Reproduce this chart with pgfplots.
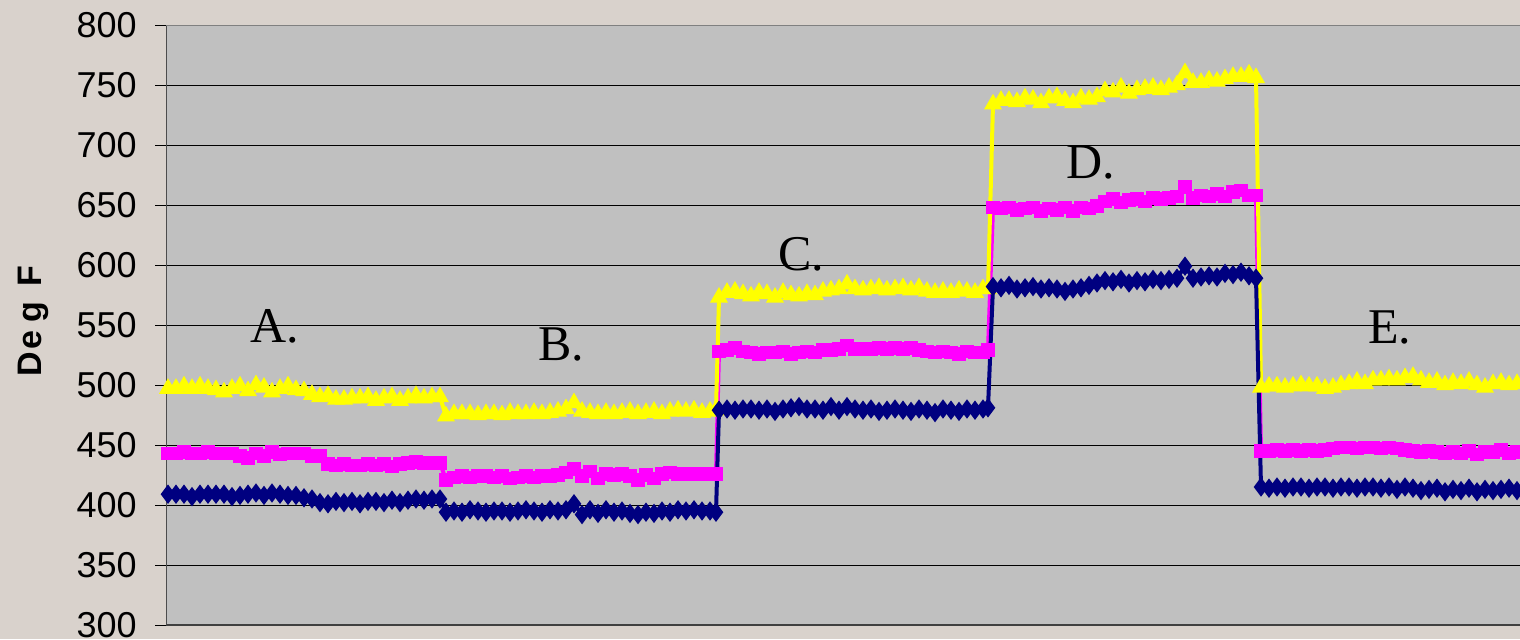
\documentclass[border=0pt]{standalone}
\usepackage{fontspec}
\setmainfont{Liberation Sans}
\newfontfamily\seriffont{Liberation Serif}
\usepackage{pgfplots}
\pgfplotsset{compat=1.18}
\definecolor{bgbeige}{RGB}{217,210,204}
\definecolor{plotgray}{RGB}{192,192,192}
\definecolor{ynavy}{RGB}{0,0,128}
\definecolor{ymag}{RGB}{255,0,255}
\definecolor{yyel}{RGB}{255,255,0}
\begin{document}
\begin{tikzpicture}
\fill[bgbeige] (0,0) rectangle (760pt,319.5pt);
\useasboundingbox (0,0) rectangle (760pt,319.5pt);
\begin{axis}[
  at={(83pt,7pt)}, anchor=south west,
  width=677pt, height=300pt, scale only axis,
  xmin=166, xmax=1520, ymin=300, ymax=800,
  ytick={300,350,...,800}, xtick=\empty,
  ymajorgrids, grid style={black, line width=0.5pt},
  axis background/.style={fill=plotgray},
  axis line style={draw=none},
  ytick pos=left, tick align=outside, major tick length=5.5pt,
  tick style={black, line width=0.5pt},
  /pgf/number format/assume math mode=true,
  yticklabel style={font=\fontsize{18}{18}\selectfont, inner sep=0pt, anchor=east, xshift=-9pt},
]
\draw[color=black!75, line width=0.6pt] (axis cs:166,300) -- (axis cs:1520,300);
\addplot[color=ymag, line width=2pt, mark=square*, mark size=2.9pt, mark options={solid, fill=ymag, line width=1pt}] coordinates {
(168,443)(176,443)(184,444)(192,443)(200,443)(208,444)(216,443)(224,443)(232,443)(240,441)(248,439)(256,443)(264,441)(272,444)(280,442)(288,443)(296,443)(304,443)(312,441)(320,441)(328,434)(336,433)(344,434)(352,433)(360,433)(368,434)(376,433)(384,434)(392,432)(400,434)(408,435)(416,436)(424,435)(432,435)(440,435)
(446,421)(454,423)(462,424)(470,423)(478,424)(486,424)(494,423)(502,424)(510,422)(518,423)(526,424)(534,423)(542,424)(550,424)(558,425)(566,427)(574,430)(582,424)(590,428)(598,422)(606,426)(614,425)(622,426)(630,424)(638,421)(646,425)(654,422)(662,426)(670,427)(678,426)(686,426)(694,426)(702,426)(710,426)(716,426)
(719,528)(727,529)(735,531)(743,528)(751,527)(759,526)(767,527)(775,527)(783,528)(791,526)(799,527)(807,528)(815,527)(823,529)(831,529)(839,530)(847,533)(855,530)(863,530)(871,530)(879,531)(887,530)(895,531)(903,530)(911,531)(919,529)(927,528)(935,527)(943,528)(951,527)(959,526)(967,528)(975,527)(983,527)(988,529)
(993,648)(1001,647)(1009,648)(1017,646)(1025,647)(1033,648)(1041,645)(1049,647)(1057,646)(1065,648)(1073,645)(1081,648)(1089,647)(1097,649)(1105,653)(1113,655)(1121,652)(1129,654)(1137,655)(1145,653)(1153,656)(1161,655)(1169,656)(1177,657)(1185,665)(1193,656)(1201,658)(1209,657)(1217,659)(1225,657)(1233,661)(1241,662)(1249,658)(1256,658)
(1261,445)(1269,445)(1277,446)(1285,445)(1293,446)(1301,445)(1309,446)(1317,445)(1325,446)(1333,447)(1341,448)(1349,448)(1357,447)(1365,448)(1373,448)(1381,447)(1389,448)(1397,447)(1405,446)(1413,445)(1421,444)(1429,445)(1437,444)(1445,443)(1453,444)(1461,443)(1469,445)(1477,442)(1485,444)(1493,444)(1501,446)(1509,443)(1517,444)(1525,445)
};
\addplot[color=yyel, line width=2pt, mark=triangle*, mark size=4.2pt, mark options={solid, fill=yyel, line width=1pt}] coordinates {
(168,497)(176,497)(184,499)(192,497)(200,499)(208,497)(216,496)(224,494)(232,497)(240,499)(248,495)(256,500)(264,498)(272,494)(280,497)(288,499)(296,496)(304,495)(312,492)(320,490)(328,491)(336,488)(344,488)(352,489)(360,489)(368,490)(376,487)(384,489)(392,490)(400,487)(408,489)(416,491)(424,489)(432,490)(440,490)
(446,474)(454,476)(462,476)(470,476)(478,475)(486,476)(494,476)(502,475)(510,477)(518,476)(526,476)(534,477)(542,476)(550,477)(558,478)(566,480)(574,485)(582,478)(590,477)(598,476)(606,477)(614,476)(622,477)(630,478)(638,476)(646,477)(654,478)(662,476)(670,478)(678,479)(686,478)(694,479)(702,477)(710,478)(716,479)
(719,573)(727,577)(735,578)(743,576)(751,574)(759,577)(767,576)(775,573)(783,577)(791,575)(799,574)(807,576)(815,575)(823,578)(831,579)(839,580)(847,584)(855,580)(863,579)(871,580)(879,581)(887,579)(895,580)(903,581)(911,579)(919,581)(927,578)(935,577)(943,578)(951,577)(959,579)(967,578)(975,577)(983,580)(988,580)
(993,734)(1001,737)(1009,737)(1017,736)(1025,739)(1033,738)(1041,735)(1049,739)(1057,740)(1065,737)(1073,735)(1081,739)(1089,738)(1097,740)(1105,745)(1113,744)(1121,748)(1129,743)(1137,746)(1145,747)(1153,748)(1161,746)(1169,748)(1177,750)(1185,760)(1193,752)(1201,752)(1209,754)(1217,753)(1225,755)(1233,757)(1241,757)(1249,759)(1256,756)
(1261,498)(1269,499)(1277,499)(1285,498)(1293,499)(1301,500)(1309,499)(1317,499)(1325,497)(1333,498)(1341,500)(1349,501)(1357,503)(1365,501)(1373,504)(1381,504)(1389,505)(1397,504)(1405,506)(1413,507)(1421,504)(1429,502)(1437,503)(1445,500)(1453,502)(1461,501)(1469,503)(1477,500)(1485,498)(1493,501)(1501,502)(1509,500)(1517,501)(1525,502)
};
\addplot[color=ynavy, line width=2pt, mark=diamond*, mark size=4.2pt, mark options={solid, fill=ynavy, line width=0.8pt}] coordinates {
(168,409)(176,409)(184,409)(192,407)(200,409)(208,409)(216,409)(224,409)(232,407)(240,408)(248,409)(256,410)(264,408)(272,410)(280,409)(288,408)(296,408)(304,406)(312,405)(320,402)(328,401)(336,403)(344,402)(352,403)(360,401)(368,403)(376,403)(384,402)(392,404)(400,402)(408,404)(416,405)(424,404)(432,405)(440,405)
(446,394)(454,395)(462,394)(470,396)(478,395)(486,394)(494,395)(502,395)(510,394)(518,395)(526,396)(534,395)(542,394)(550,396)(558,395)(566,396)(574,401)(582,392)(590,396)(598,393)(606,396)(614,394)(622,395)(630,393)(638,392)(646,394)(654,393)(662,395)(670,394)(678,396)(686,395)(694,396)(702,395)(710,395)(716,394)
(719,479)(727,480)(735,479)(743,480)(751,480)(759,479)(767,480)(775,478)(783,480)(791,481)(799,482)(807,480)(815,480)(823,479)(831,482)(839,479)(847,482)(855,480)(863,479)(871,480)(879,478)(887,479)(895,480)(903,479)(911,478)(919,480)(927,479)(935,477)(943,480)(951,479)(959,478)(967,480)(975,479)(983,480)(988,481)
(993,582)(1001,581)(1009,583)(1017,580)(1025,581)(1033,582)(1041,580)(1049,581)(1057,580)(1065,578)(1073,580)(1081,581)(1089,583)(1097,585)(1105,587)(1113,586)(1121,588)(1129,585)(1137,587)(1145,586)(1153,588)(1161,587)(1169,588)(1177,589)(1185,599)(1193,589)(1201,590)(1209,591)(1217,590)(1225,593)(1233,592)(1241,594)(1249,591)(1256,589)
(1261,415)(1269,414)(1277,415)(1285,414)(1293,415)(1301,415)(1309,414)(1317,415)(1325,415)(1333,414)(1341,415)(1349,415)(1357,414)(1365,415)(1373,415)(1381,414)(1389,415)(1397,413)(1405,415)(1413,414)(1421,412)(1429,413)(1437,414)(1445,411)(1453,413)(1461,412)(1469,414)(1477,411)(1485,413)(1493,412)(1501,413)(1509,414)(1517,412)(1525,413)
};
\draw[color=black!70, line width=1pt] (axis cs:166,300) -- (axis cs:166,800);
\draw[color=black!50, line width=1pt] (axis cs:166,800) -- (axis cs:1520,800);
\node[anchor=base west, inner sep=0pt, font=\seriffont\fontsize{25}{25}\selectfont] at (axis cs:250,535.8) {A.};
\node[anchor=base west, inner sep=0pt, font=\seriffont\fontsize{25}{25}\selectfont] at (axis cs:538,520.8) {B.};
\node[anchor=base west, inner sep=0pt, font=\seriffont\fontsize{25}{25}\selectfont] at (axis cs:778,595.8) {C.};
\node[anchor=base west, inner sep=0pt, font=\seriffont\fontsize{25}{25}\selectfont] at (axis cs:1066,671.7) {D.};
\node[anchor=base west, inner sep=0pt, font=\seriffont\fontsize{25}{25}\selectfont] at (axis cs:1368,535) {E.};
\end{axis}
\node[rotate=90, font=\bfseries\fontsize{17}{17}\selectfont] at (16.5pt,159pt) {D\kern1.5pt e\kern4pt g\kern1.5pt\ \kern1.5pt F};
\end{tikzpicture}
\end{document}
